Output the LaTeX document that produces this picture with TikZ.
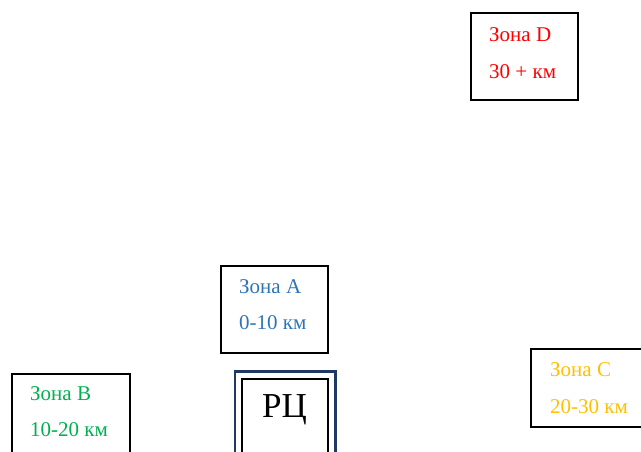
\documentclass[tikz,border=0pt]{standalone}
\usepackage{fontspec}
\setmainfont{Liberation Serif}
\definecolor{zA}{HTML}{2E75B6}
\definecolor{zB}{HTML}{00B050}
\definecolor{zC}{HTML}{FFC000}
\definecolor{zD}{HTML}{FF0000}
\definecolor{navy}{HTML}{1F3864}
\begin{document}
\begin{tikzpicture}[x=1pt,y=-1pt,
  zonebox/.style={draw=black, line width=2.1pt, inner sep=0pt, anchor=north west},
  ztext/.style={anchor=base west, inner sep=0pt, font=\fontsize{21}{25}\selectfont},
  rcouter/.style={draw=navy, line width=2.6pt, inner sep=0pt, anchor=north west},
  rcinner/.style={draw=black, line width=2.1pt, inner sep=0pt, anchor=north west}]
\clip (0,0) rectangle (641,452);
\fill[white] (0,0) rectangle (641,452);
% Zone D
\node[zonebox, minimum width=107pt, minimum height=87pt] (boxD) at (470.3,12) {};
\node[ztext, text=zD] (dA) at (489,42) {Зона D};
\node[ztext, text=zD] (dB) at (489,79) {30 + км};
% Zone A
\node[zonebox, minimum width=107pt, minimum height=86.5pt] (boxA) at (220.2,265) {};
\node[ztext, text=zA] (aA) at (239,293) {Зона А};
\node[ztext, text=zA] (aB) at (239,329) {0-10 км};
% Zone B
\node[zonebox, minimum width=117.5pt, minimum height=100pt] (boxB) at (11,372.8) {};
\node[ztext, text=zB] (bA) at (30,400) {Зона В};
\node[ztext, text=zB] (bB) at (30,436) {10-20 км};
% Zone C
\node[zonebox, minimum width=130pt, minimum height=78pt] (boxC) at (530.2,347.5) {};
\node[ztext, text=zC] (cA) at (550,376) {Зона С};
\node[ztext, text=zC] (cB) at (550,413) {20-30 км};
% RC
\node[rcouter, minimum width=100.5pt, minimum height=100pt] (rcO) at (233.8,370.2) {};
\node[rcinner, minimum width=86.5pt, minimum height=100pt] (rcI) at (240.8,378.3) {};
\node[anchor=base, inner sep=0pt, font=\fontsize{35}{40}\selectfont] (rcT) at (284.5,417.5) {РЦ};
\end{tikzpicture}
\end{document}
